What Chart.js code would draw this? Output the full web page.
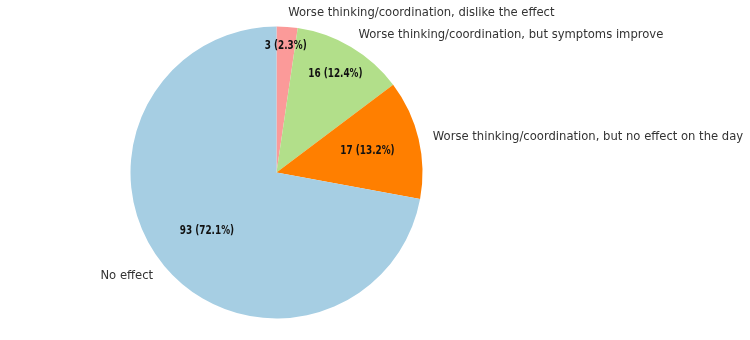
<!DOCTYPE html>
<html>
<head>
<meta charset="utf-8">
<script src="https://cdn.jsdelivr.net/npm/chart.js@4"></script>
<style>
html,body{margin:0;padding:0;background:#fff;}
#wrap{width:750px;height:340px;position:relative;}
</style>
</head>
<body>
<div id="wrap"><canvas id="c" width="750" height="340"></canvas></div>
<script>
const categories = [
  "Worse thinking/coordination, dislike the effect",
  "Worse thinking/coordination, but symptoms improve",
  "Worse thinking/coordination, but no effect on the day",
  "No effect"
];
const counts = [3, 16, 17, 93];
const sliceColors = ["#fb9a99", "#b2df8a", "#ff7f00", "#a6cee3"];
const pctDistances = [0.868, 0.79, 0.64, 0.62];
const labelDistance = 1.1;

const total = counts.reduce((a, b) => a + b, 0);

const labelPlugin = {
  id: 'pieLabels',
  afterDatasetsDraw(chart) {
    const ctx = chart.ctx;
    const meta = chart.getDatasetMeta(0);
    meta.data.forEach((arc, i) => {
      const p = arc.getProps(['x', 'y', 'startAngle', 'endAngle', 'outerRadius'], true);
      const mid = (p.startAngle + p.endAngle) / 2;
      const c = Math.cos(mid), s = Math.sin(mid);
      // outer label
      ctx.save();
      ctx.font = '11.6px "DejaVu Sans"';
      ctx.fillStyle = '#333333';
      ctx.textBaseline = 'middle';
      ctx.textAlign = c >= 0 ? 'left' : 'right';
      ctx.fillText(categories[i], p.x + c * p.outerRadius * labelDistance, p.y + s * p.outerRadius * labelDistance + 1);
      ctx.restore();
      // inner label (condensed look via horizontal scaling)
      const pct = (counts[i] / total * 100).toFixed(1);
      const d = pctDistances[i];
      const tx = p.x + c * p.outerRadius * d, ty = p.y + s * p.outerRadius * d;
      ctx.save();
      ctx.translate(tx, ty);
      ctx.scale(0.71, 1);
      ctx.font = 'bold 12.5px "DejaVu Sans"';
      ctx.fillStyle = '#111111';
      ctx.textAlign = 'center';
      ctx.textBaseline = 'middle';
      ctx.fillText(counts[i] + ' (' + pct + '%)', 0, 0);
      ctx.restore();
    });
  }
};

new Chart(document.getElementById('c'), {
  type: 'pie',
  data: {
    labels: categories,
    datasets: [{
      data: counts,
      backgroundColor: sliceColors,
      borderWidth: 0
    }]
  },
  options: {
    responsive: false,
    animation: false,
    layout: { padding: { left: 130.5, right: 327.5, top: 26.5, bottom: 21.5 } },
    plugins: {
      legend: { display: false },
      tooltip: { enabled: false }
    }
  },
  plugins: [labelPlugin]
});
</script>
</body>
</html>
